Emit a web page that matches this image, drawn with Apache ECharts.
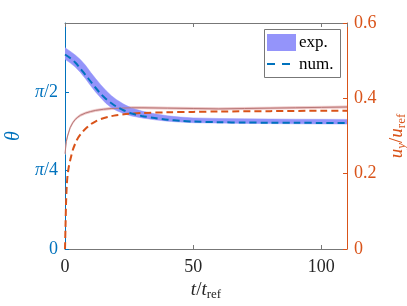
<!DOCTYPE html>
<html><head><meta charset="utf-8">
<script src="https://cdn.jsdelivr.net/npm/echarts@6/dist/echarts.min.js"></script>
<style>html,body{margin:0;padding:0;background:#fff}#c{width:407px;height:306px}</style>
</head><body><div id="c"></div>
<script>
// ---- data ----
const tThetaExp   = [0, 2, 4, 6, 8, 10, 12, 14, 16, 18, 20, 23, 26, 30, 35, 40, 45, 50, 60, 70, 80, 90, 100, 110];
const thetaExp    = [1.955, 1.92, 1.88, 1.83, 1.77, 1.70, 1.635, 1.575, 1.52, 1.475, 1.44, 1.40, 1.37, 1.345, 1.322, 1.305, 1.294, 1.287, 1.282, 1.279, 1.277, 1.275, 1.274, 1.273];
const thetaExpHalf= [0.058, 0.058, 0.06, 0.064, 0.067, 0.067, 0.067, 0.066, 0.064, 0.06, 0.055, 0.047, 0.04, 0.034, 0.03, 0.027, 0.025, 0.024, 0.023, 0.023, 0.023, 0.023, 0.023, 0.023];
const tThetaNum   = [0, 2, 4, 6, 8, 10, 12, 14, 16, 18, 20, 23, 26, 30, 35, 40, 45, 50, 60, 70, 80, 90, 100, 110];
const thetaNum    = [1.945, 1.91, 1.865, 1.805, 1.74, 1.675, 1.61, 1.55, 1.50, 1.46, 1.425, 1.385, 1.355, 1.33, 1.31, 1.293, 1.282, 1.275, 1.268, 1.265, 1.263, 1.262, 1.261, 1.26];
const tUExp       = [0, 0.5, 1, 2, 3, 4, 5, 6, 8, 10, 12, 15, 18, 22, 26, 30, 40, 50, 60, 70, 80, 90, 100, 110];
const uExp        = [0.253, 0.285, 0.30, 0.322, 0.335, 0.344, 0.35, 0.355, 0.361, 0.365, 0.368, 0.371, 0.373, 0.374, 0.375, 0.375, 0.374, 0.373, 0.372, 0.373, 0.374, 0.375, 0.376, 0.377];
const uExpHalf    = 0.003;
const tUNum       = [0, 0.2, 0.4, 0.7, 1, 1.5, 2, 3, 4, 5, 6.5, 8, 10, 12, 14, 17, 20, 25, 30, 40, 50, 60, 80, 100, 110];
const uNum        = [0, 0.06, 0.12, 0.17, 0.195, 0.219, 0.235, 0.262, 0.28, 0.294, 0.308, 0.319, 0.331, 0.339, 0.345, 0.351, 0.355, 0.359, 0.361, 0.363, 0.364, 0.365, 0.366, 0.367, 0.367];
const thetaTickLabels = ['{n|0}', '{i|π}{n|/4}', '{i|π}{n|/2}'];
const legendNames = ['exp.', 'num.'];

// ---- chart ----
const FF = "'Liberation Serif', 'DejaVu Serif', serif";
const BLUE = '#0072BD', ORANGE = '#D95319', BAND = '#9494FA', GRAY = '#262626';
const zip = (a, b) => a.map((v, i) => [v, b[i]]);
const rs = (color, extra) => Object.assign({fontFamily: FF, fontSize: 18, color: color}, extra || {});

function bandSeries(t, lo, hi, yIdx, color) {
  return {
    type: 'custom', yAxisIndex: yIdx, silent: true, clip: true,
    data: t.map((v, i) => [v, lo[i], hi[i]]),
    encode: {x: 0, y: [1, 2]},
    renderItem: (params, api) => {
      if (params.dataIndex !== 0) return null;
      const up = t.map((v, i) => api.coord([v, hi[i]]));
      const dn = t.map((v, i) => api.coord([v, lo[i]])).reverse();
      return {type: 'polygon', shape: {points: up.concat(dn), smooth: 0}, style: {fill: color, stroke: color, lineWidth: 0.5}};
    }
  };
}

const chart = echarts.init(document.getElementById('c'), null, {renderer: 'canvas'});
chart.setOption({
  animation: false,
  backgroundColor: '#fff',
  textStyle: {fontFamily: FF},
  grid: {left: 65, right: 60, top: 23, bottom: 57, containLabel: false, outerBoundsMode: 'none'},
  xAxis: [{
    type: 'value', min: 0, max: 110, interval: 50, position: 'bottom',
    axisLine: {show: true, onZero: false, lineStyle: {color: '#777', width: 1}},
    axisTick: {show: true, inside: true, length: 4, lineStyle: {color: '#777'}},
    splitLine: {show: false},
    axisLabel: {showMaxLabel: false, color: GRAY, fontFamily: FF, fontSize: 18, margin: 9,
      formatter: v => '{n|' + v + '}', rich: {n: rs(GRAY)}},
    name: '{i|t}/{i|t}{sub|ref}', nameLocation: 'middle', nameGap: 28,
    nameTextStyle: {color: GRAY, fontFamily: FF, fontSize: 19, rich: {
      i: rs(GRAY, {fontStyle: 'italic', fontSize: 19}),
      sub: rs(GRAY, {fontSize: 13, padding: [9, 0, 0, 0], verticalAlign: 'top'})
    }}
  }, {
    type: 'value', min: 0, max: 110, interval: 50, position: 'top',
    axisLine: {show: true, onZero: false, lineStyle: {color: '#777', width: 1}},
    axisTick: {show: true, inside: true, length: 4, lineStyle: {color: '#777'}},
    axisLabel: {show: false}, splitLine: {show: false}
  }],
  yAxis: [{
    type: 'value', min: 0, max: 2.26, interval: Math.PI / 4, position: 'left',
    axisLine: {show: true, onZero: false, lineStyle: {color: BLUE, width: 1}},
    axisTick: {show: true, inside: true, length: 4, lineStyle: {color: BLUE}},
    splitLine: {show: false},
    axisLabel: {
      showMaxLabel: false, margin: 7, color: BLUE, fontFamily: FF, fontSize: 18,
      formatter: v => { const k = Math.round(v / (Math.PI / 4)); return Math.abs(v - k * Math.PI / 4) < 1e-6 && k < thetaTickLabels.length ? thetaTickLabels[k] : ''; },
      rich: {i: rs(BLUE, {fontStyle: 'italic'}), n: rs(BLUE)}
    },
    name: '{i|θ}', nameLocation: 'middle', nameGap: 40, nameRotate: 90,
    nameTextStyle: {color: BLUE, fontFamily: FF, fontStyle: 'italic', fontSize: 20, rich: {i: rs(BLUE, {fontStyle: 'italic', fontSize: 20})}}
  }, {
    type: 'value', min: 0, max: 0.6, interval: 0.2, position: 'right',
    axisLine: {show: true, onZero: false, lineStyle: {color: ORANGE, width: 1}},
    axisTick: {show: true, inside: true, length: 4, lineStyle: {color: ORANGE}},
    splitLine: {show: false},
    axisLabel: {margin: 7, color: ORANGE, fontFamily: FF, fontSize: 18,
      formatter: v => '{n|' + (v === 0 ? '0' : v.toFixed(1)) + '}', rich: {n: rs(ORANGE)}},
    name: '{i|u}{subi|y}/{i|u}{sub|ref}', nameLocation: 'middle', nameGap: 29, nameRotate: 90,
    nameTextStyle: {color: ORANGE, fontFamily: FF, fontSize: 19, rich: {
      i: rs(ORANGE, {fontStyle: 'italic', fontSize: 19}),
      subi: rs(ORANGE, {fontStyle: 'italic', fontSize: 13, padding: [9, 0, 0, 0], verticalAlign: 'top'}),
      sub: rs(ORANGE, {fontSize: 13, padding: [9, 0, 0, 0], verticalAlign: 'top'})
    }}
  }],
  graphic: [
    {type: 'rect', z: 100, shape: {x: 264.5, y: 29.5, width: 76, height: 48}, style: {fill: '#fff', stroke: '#777', lineWidth: 1}},
    {type: 'rect', z: 101, shape: {x: 267, y: 34, width: 29, height: 17}, style: {fill: BAND}},
    {type: 'text', z: 101, x: 299, y: 43, style: {text: legendNames[0], font: '17px ' + FF, fill: '#000', verticalAlign: 'middle'}},
    {type: 'line', z: 101, shape: {x1: 267, y1: 64, x2: 291, y2: 64}, style: {stroke: BLUE, lineWidth: 2, lineDash: [8, 7]}},
    {type: 'text', z: 101, x: 299, y: 65, style: {text: legendNames[1], font: '17px ' + FF, fill: '#000', verticalAlign: 'middle'}}
  ],
  series: [
    bandSeries(tUExp, uExp.map(v => v - uExpHalf), uExp.map(v => v + uExpHalf), 1, '#EBBFBF'),
    {name: 'uExp', type: 'line', yAxisIndex: 1, symbol: 'none', silent: true,
     data: zip(tUExp, uExp), lineStyle: {color: '#B87878', width: 1}},
    bandSeries(tThetaExp, thetaExp.map((v, i) => v - thetaExpHalf[i]), thetaExp.map((v, i) => v + thetaExpHalf[i]), 0, BAND),
    {name: 'uNum', type: 'line', yAxisIndex: 1, symbol: 'none', silent: true, smooth: 0.3,
     data: zip(tUNum, uNum), lineStyle: {color: ORANGE, width: 2, type: [7, 4]}},
    {name: 'num.', type: 'line', yAxisIndex: 0, symbol: 'none', silent: true, smooth: 0.3,
     data: zip(tThetaNum, thetaNum), lineStyle: {color: BLUE, width: 2, type: [7, 4]}}
  ]
});
</script>
</body></html>
